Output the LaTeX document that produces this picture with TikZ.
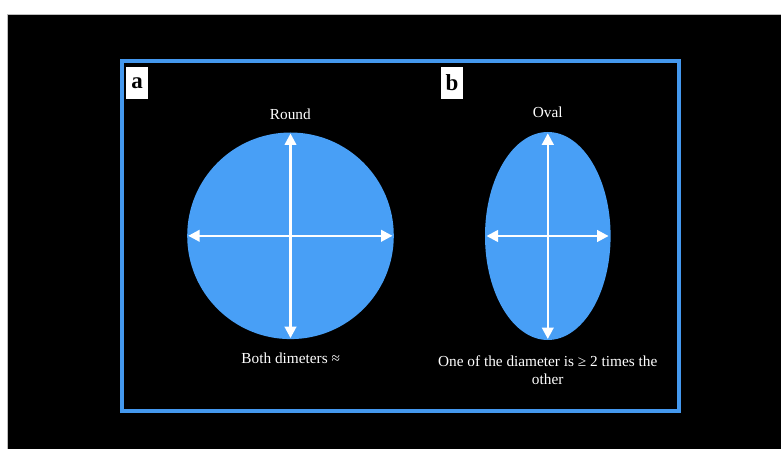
\documentclass[tikz,border=0pt]{standalone}
\usepackage{fontspec}
\setmainfont{Liberation Serif}
\usetikzlibrary{shapes.geometric,arrows.meta}
\definecolor{shapeblue}{RGB}{72,159,246}
\definecolor{frameblue}{RGB}{68,152,238}
\definecolor{edgegray}{RGB}{190,190,190}
\tikzset{
  blob/.style={ellipse, fill=shapeblue, draw=none, inner sep=0pt, outer sep=0pt},
  axis/.style={draw=white, line width=2.5bp, {Triangle[length=11.5bp,width=11.5bp]}-{Triangle[length=11.5bp,width=11.5bp]}},
  caption/.style={text=white, font=\fontsize{15.3bp}{18.3bp}\selectfont, inner sep=0pt, anchor=base, align=center},
  tag/.style={fill=white, draw=none, minimum width=22bp, minimum height=32bp, inner sep=0pt, outer sep=0pt,
    font=\fontsize{23bp}{23bp}\selectfont\bfseries, text=black},
}
\begin{document}
\begin{tikzpicture}[x=1bp, y=-1bp]
  % page: white margin strips and black canvas
  \useasboundingbox (0,0) rectangle (781,449);
  \fill[white] (0,0) rectangle (781,449);
  \fill[black] (7.5,14.5) rectangle (781,449);
  \draw[edgegray, line width=1bp] (7.5,449) -- (7.5,14.5) -- (781,14.5);

  % outer frame
  \draw[frameblue, line width=4bp] (122,61) rectangle (679,411);

  % panel tags
  \node[tag] (taga) at (137,83) {a};
  \node[tag] (tagb) at (452,83) {b};

  % round shape
  \node[blob, minimum width=206.6bp, minimum height=206.6bp] (circ) at (290.5,235.8) {};
  \draw[axis] ([xshift=1bp]circ.west) -- ([xshift=-1.3bp]circ.east);
  \draw[axis] ([yshift=-1bp]circ.north) -- ([yshift=1bp]circ.south);

  % oval shape
  \node[blob, minimum width=125.6bp, minimum height=208bp] (oval) at (547.8,236) {};
  \draw[axis] ([xshift=1.5bp]oval.west) -- ([xshift=-2bp]oval.east);
  \draw[axis] ([yshift=-1.3bp]oval.north) -- ([yshift=1bp]oval.south);

  % captions
  \node[caption] (roundlbl) at (290.3,119.3) {Round};
  \node[caption] (ovallbl) at (547.7,117.3) {Oval};
  \node[caption] (roundnote) at (290.7,364) {Both dimeters ≈};
  % two-line caption: base anchor sits on the last line
  \node[caption] (ovalnote) at (547.7,385) {One of the diameter is ≥ 2 times the\\other};
\end{tikzpicture}
\end{document}
